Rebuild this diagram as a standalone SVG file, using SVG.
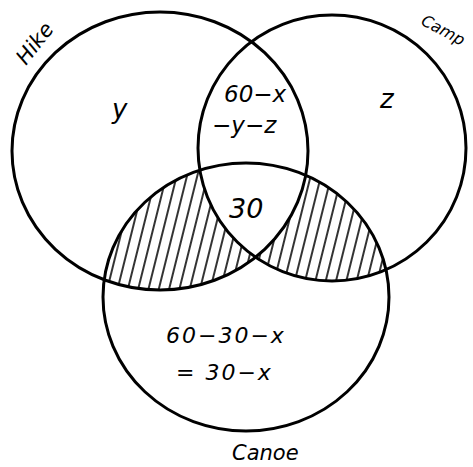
<svg xmlns="http://www.w3.org/2000/svg" width="473" height="467" viewBox="0 0 473 467">
<style>
.c{fill:none;stroke:#000;stroke-width:3}
.t{font-family:"DejaVu Sans","Liberation Sans",sans-serif;font-style:italic;fill:#000}
.h{stroke:#000;stroke-width:1.6}
</style>
<defs>
<pattern id="hatch" width="10" height="40" patternUnits="userSpaceOnUse" patternTransform="rotate(14)">
<line class="h" x1="4" y1="0" x2="4" y2="40"/>
</pattern>
<clipPath id="xor">
<path clip-rule="evenodd" d="M12,151 a148,139 0 1,0 296,0 a148,139 0 1,0 -296,0Z M198,148 a134,133 0 1,0 268,0 a134,133 0 1,0 -268,0Z"/>
</clipPath>
<clipPath id="canoe">
<ellipse cx="246" cy="297" rx="143" ry="134"/>
</clipPath>
</defs>
<rect width="473" height="467" fill="#fff"/>
<g id="hatching" clip-path="url(#canoe)">
<rect x="0" y="150" width="473" height="160" fill="url(#hatch)" clip-path="url(#xor)"/>
</g>
<g id="connectors"></g>
<g id="hike">
<ellipse class="c" cx="160" cy="151" rx="148" ry="139"/>
<text class="t" font-size="21" transform="translate(26,66) rotate(-52)">Hike</text>
<text class="t" font-size="26" x="112" y="118">y</text>
</g>
<g id="camp">
<ellipse class="c" cx="332" cy="148" rx="134" ry="133"/>
<text class="t" font-size="16" transform="translate(420,24) rotate(28)">Camp</text>
<text class="t" font-size="26" x="380" y="108">z</text>
</g>
<g id="canoe-set">
<ellipse class="c" cx="246" cy="297" rx="143" ry="134"/>
<text class="t" font-size="21" x="232" y="460">Canoe</text>
<text class="t" font-size="22" letter-spacing="2" x="166" y="343">60−30−x</text>
<text class="t" font-size="22" letter-spacing="2" x="176" y="380">= 30−x</text>
</g>
<g id="center">
<text class="t" font-size="23" x="224" y="102">60−x</text>
<text class="t" font-size="23" x="212" y="133">−y−z</text>
<text class="t" font-size="27" x="229" y="218">30</text>
</g>
</svg>
